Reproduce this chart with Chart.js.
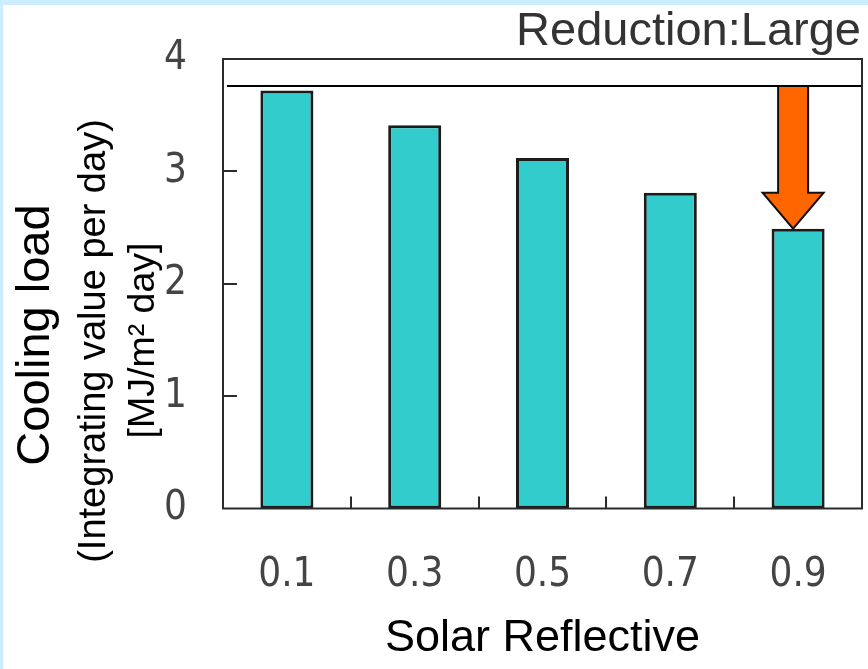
<!DOCTYPE html>
<html>
<head>
<meta charset="utf-8">
<script src="https://cdn.jsdelivr.net/npm/chart.js@4/dist/chart.umd.min.js"></script>
<style>
  html, body { margin: 0; padding: 0; width: 868px; height: 669px; overflow: hidden; background: #CCECFF; }
  #panel { position: absolute; left: 3px; top: 5px; width: 865px; height: 664px; background: #ffffff; }
  canvas { display: block; }
</style>
</head>
<body>
<div id="panel"><canvas id="chart" width="865" height="664"></canvas></div>
<script>
// Solar reflectance of the roof surface and the resulting daily cooling load
const categories = ['0.1', '0.3', '0.5', '0.7', '0.9'];
const coolingLoad = [3.72, 3.41, 3.12, 2.81, 2.49];
const referenceLevel = 3.76;          // level of the horizontal guide line
const yTickValues = [0, 1, 2, 3, 4];
const titleText = 'Reduction:Large';
const xAxisTitle = 'Solar Reflective';
const yAxisTitle = 'Cooling load';
const yAxisSubtitle = ['(Integrating value per day)', '[MJ/m\u00B2 day]'];

const SANS = "'Liberation Sans', Arial, Helvetica, sans-serif";
const NARROW = "'Liberation Sans Narrow', 'Arial Narrow', 'DejaVu Sans Condensed', sans-serif";

// Frame, inward tick marks, guide line, arrow, heading and rotated axis captions
const decorations = {
  id: 'decorations',
  afterDatasetsDraw(chart) {
    const { ctx, chartArea: a, scales: { x, y } } = chart;
    ctx.save();

    // reduction arrow from the guide line down to the last bar
    const ax = x.getPixelForValue(categories.length - 1) - 5;
    const yTop = y.getPixelForValue(referenceLevel);
    const yTip = y.getPixelForValue(coolingLoad[coolingLoad.length - 1]);
    const shaft = 15, head = 30.5, headLen = 36;
    ctx.beginPath();
    ctx.moveTo(ax - shaft, yTop);
    ctx.lineTo(ax + shaft, yTop);
    ctx.lineTo(ax + shaft, yTip - headLen);
    ctx.lineTo(ax + head, yTip - headLen);
    ctx.lineTo(ax, yTip);
    ctx.lineTo(ax - head, yTip - headLen);
    ctx.lineTo(ax - shaft, yTip - headLen);
    ctx.closePath();
    ctx.fillStyle = '#FF6600';
    ctx.fill();
    ctx.lineWidth = 2;
    ctx.lineJoin = 'miter';
    ctx.strokeStyle = '#111111';
    ctx.stroke();

    // horizontal guide line
    ctx.beginPath();
    ctx.moveTo(a.left + 4, yTop);
    ctx.lineTo(a.right, yTop);
    ctx.lineWidth = 2;
    ctx.strokeStyle = '#000000';
    ctx.stroke();

    // plot frame
    ctx.beginPath();
    ctx.rect(a.left, a.top, a.right - a.left, a.bottom - a.top);
    ctx.strokeStyle = '#2b2b2b';
    ctx.lineWidth = 2;
    ctx.stroke();

    // inward ticks on the value axis
    ctx.beginPath();
    yTickValues.forEach(v => {
      if (v === y.min || v === y.max) return;
      const py = Math.round(y.getPixelForValue(v));
      ctx.moveTo(a.left, py);
      ctx.lineTo(a.left + 14, py);
    });
    // inward ticks between categories
    for (let i = 0; i < categories.length - 1; i++) {
      const px = Math.round((x.getPixelForValue(i) + x.getPixelForValue(i + 1)) / 2);
      ctx.moveTo(px, a.bottom);
      ctx.lineTo(px, a.bottom - 12);
    }
    ctx.stroke();
    ctx.restore();
  },
  afterDraw(chart) {
    const { ctx, chartArea: a } = chart;
    ctx.save();

    // heading, right aligned above the plot
    ctx.fillStyle = '#333333';
    ctx.textAlign = 'right';
    ctx.textBaseline = 'alphabetic';
    ctx.font = '47px ' + SANS;
    ctx.fillText(titleText, a.right - 1, 40);

    // rotated value-axis captions
    ctx.fillStyle = '#000000';
    ctx.textAlign = 'center';
    const lines = [
      { text: yAxisTitle, x: 46, y: 330, size: 47 },
      { text: yAxisSubtitle[0], x: 102, y: 336, size: 38 },
      { text: yAxisSubtitle[1], x: 151, y: 335.5, size: 37.5 }
    ];
    lines.forEach(l => {
      ctx.save();
      ctx.translate(l.x, l.y);
      ctx.rotate(-Math.PI / 2);
      ctx.font = l.size + 'px ' + SANS;
      ctx.fillText(l.text, 0, 0);
      ctx.restore();
    });
    ctx.restore();
  }
};

new Chart(document.getElementById('chart'), {
  type: 'bar',
  data: {
    labels: categories,
    datasets: [{
      data: coolingLoad,
      backgroundColor: '#33CCCC',
      borderColor: '#1c1c1c',
      borderWidth: 3,
      borderSkipped: false,
      categoryPercentage: 1,
      barPercentage: 0.415
    }]
  },
  options: {
    responsive: false,
    animation: false,
    devicePixelRatio: 1,
    layout: { padding: { top: 54, left: 0, right: 6, bottom: 0 } },
    plugins: {
      legend: { display: false },
      tooltip: { enabled: false },
      title: { display: false }
    },
    scales: {
      x: {
        offset: true,
        grid: { display: false, drawTicks: false },
        border: { display: false },
        ticks: {
          color: '#444444',
          font: { family: NARROW, size: 40, lineHeight: 1.2 },
          padding: 43,
          maxRotation: 0
        },
        title: {
          display: true,
          text: xAxisTitle,
          color: '#000000',
          font: { family: SANS, size: 45, lineHeight: 1.2 },
          padding: { top: 0, bottom: 3 }
        },
        afterFit(scale) {
          scale.height = 160.5;
          scale.paddingLeft = 0;
          scale.paddingRight = 0;
        }
      },
      y: {
        min: 0,
        max: 4,
        grid: { display: false, drawTicks: false },
        border: { display: false },
        afterBuildTicks(scale) { scale.ticks = yTickValues.map(v => ({ value: v })); },
        ticks: {
          color: '#444444',
          font: { family: NARROW, size: 40, lineHeight: 1.2 },
          padding: 36
        },
        afterFit(scale) {
          scale.width = 220;
          scale.paddingTop = 0;
          scale.paddingBottom = 0;
        }
      }
    }
  },
  plugins: [decorations]
});
</script>
</body>
</html>
